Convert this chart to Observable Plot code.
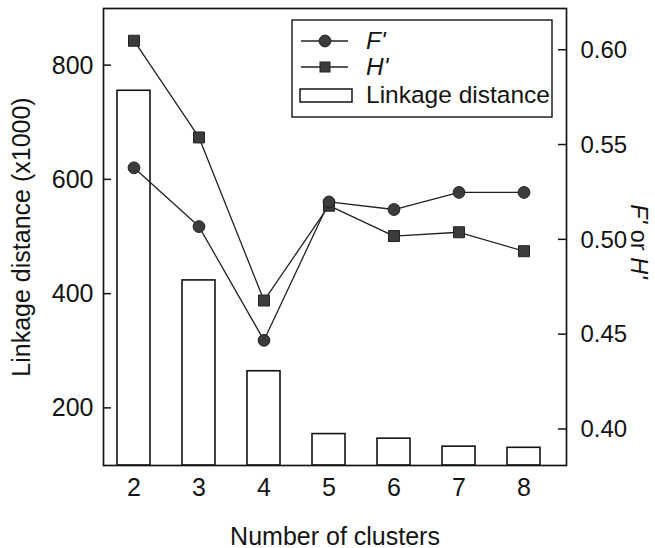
<!DOCTYPE html>
<html><head><meta charset="utf-8">
<script src="https://cdn.jsdelivr.net/npm/d3@7"></script>
<script src="https://cdn.jsdelivr.net/npm/@observablehq/plot@0.6"></script>
<style>
body{margin:0;background:#fff}
svg{font-family:"Liberation Sans",Arial,sans-serif}
</style>
</head><body><div id="chart"></div>
<script>
// Data
const clusters = [2, 3, 4, 5, 6, 7, 8];
const linkage = [756, 424, 265, 155, 147, 133, 131];          // Linkage distance (x1000)
const fPrime = [0.538, 0.507, 0.447, 0.520, 0.516, 0.525, 0.525];
const hPrime = [0.605, 0.554, 0.468, 0.518, 0.502, 0.504, 0.494];
const leftTicks = [200, 400, 600, 800];
const rightTicks = [0.40, 0.45, 0.50, 0.55, 0.60];
const xTickLabels = ["2", "3", "4", "5", "6", "7", "8"];
const leftDomain = [100, 900];
const rightDomain = [0.381, 0.622];

const toLeft = v => leftDomain[0] + (v - rightDomain[0]) / (rightDomain[1] - rightDomain[0]) * (leftDomain[1] - leftDomain[0]);
const fromLeft = v => rightDomain[0] + (v - leftDomain[0]) / (leftDomain[1] - leftDomain[0]) * (rightDomain[1] - rightDomain[0]);

const bars = clusters.map((k, i) => ({k, v: linkage[i]}));
const fRows = clusters.map((k, i) => ({k, s: "F", v: toLeft(fPrime[i])}));
const hRows = clusters.map((k, i) => ({k, s: "H", v: toLeft(hPrime[i])}));

const W = 655, H = 548, mL = 103, mR = 89, mT = 8, mB = 83;
const tickLen = 8;
const ink = "#141414";

const plot = Plot.plot({
  width: W, height: H,
  marginLeft: mL, marginRight: mR, marginTop: mT, marginBottom: mB,
  style: {fontSize: "25px", fontFamily: "'Liberation Sans', Arial, sans-serif", color: ink, background: "white", overflow: "visible"},
  x: {type: "band", domain: clusters, paddingInner: 0.5, paddingOuter: 0.268, align: 0.354},
  y: {domain: leftDomain},
  marks: [
    Plot.barY(bars, {x: "k", y1: leftDomain[0], y2: "v", fill: "white", stroke: ink, strokeWidth: 1.6}),
    Plot.line(hRows, {x: "k", y: "v", stroke: "#222", strokeWidth: 1.3}),
    Plot.line(fRows, {x: "k", y: "v", stroke: "#222", strokeWidth: 1.3}),
    Plot.dot(hRows, {x: "k", y: "v", symbol: "square", r: 6.2, fill: "#3c3c3c", stroke: "#222", strokeWidth: 1}),
    Plot.dot(fRows, {x: "k", y: "v", symbol: "circle", r: 5.9, fill: "#3c3c3c", stroke: "#222", strokeWidth: 1}),
    Plot.frame({stroke: ink, strokeWidth: 1.7}),
    Plot.axisX({tickSize: 0, tickPadding: 13, tickFormat: (d, i) => xTickLabels[i], label: "Number of clusters", labelAnchor: "center", labelOffset: 79, labelArrow: "none"}),
    Plot.axisY({ticks: leftTicks, tickSize: 0, tickPadding: 10, label: "Linkage distance (x1000)", labelAnchor: "center", labelOffset: 91, labelArrow: "none"}),
    Plot.axisY({anchor: "right", ticks: rightTicks.map(toLeft), tickFormat: d => fromLeft(d).toFixed(2), tickSize: 0, tickPadding: 14, fontSize: 24, label: null})
  ]
});
document.getElementById("chart").appendChild(plot);

const svg = d3.select(plot);
const yScale = plot.scale("y");

// Inward-pointing tick marks, placed with Plot's own y scale
const tg = svg.append("g").attr("stroke", ink).attr("stroke-width", 1.5);
for (const v of leftTicks) {
  const y = yScale.apply(v);
  tg.append("line").attr("x1", mL).attr("x2", mL + tickLen).attr("y1", y).attr("y2", y);
}
for (const v of rightTicks) {
  const y = yScale.apply(toLeft(v));
  tg.append("line").attr("x1", W - mR - tickLen).attr("x2", W - mR).attr("y1", y).attr("y2", y);
}

// Right axis title
const rt = svg.append("text")
  .attr("transform", `translate(${W - 24},${(mT + H - mB) / 2 + 5}) rotate(90)`)
  .attr("text-anchor", "middle").attr("fill", ink).attr("font-size", 23.5);
rt.append("tspan").attr("font-style", "italic").text("F'");
rt.append("tspan").text(" or ");
rt.append("tspan").attr("font-style", "italic").text("H'");

// Legend
const lg = svg.append("g").attr("fill", ink).attr("font-size", 24.5).attr("text-anchor", "start");
lg.append("rect").attr("x", 292).attr("y", 20).attr("width", 260).attr("height", 97)
  .attr("fill", "white").attr("stroke", ink).attr("stroke-width", 1.4);
const rows = [{y: 41, label: "F'", sym: "circle"}, {y: 67, label: "H'", sym: "square"}, {y: 95, label: "Linkage distance", sym: "bar"}];
for (const r of rows) {
  if (r.sym === "bar") {
    lg.append("rect").attr("x", 300).attr("y", r.y - 6).attr("width", 52).attr("height", 13)
      .attr("fill", "white").attr("stroke", ink).attr("stroke-width", 1.5);
  } else {
    lg.append("line").attr("x1", 301).attr("x2", 348).attr("y1", r.y).attr("y2", r.y).attr("stroke", "#222").attr("stroke-width", 1.3);
    if (r.sym === "circle") lg.append("circle").attr("cx", 325).attr("cy", r.y).attr("r", 5.9).attr("fill", "#3c3c3c").attr("stroke", "#222");
    else lg.append("rect").attr("x", 320).attr("y", r.y - 5).attr("width", 10).attr("height", 10).attr("fill", "#3c3c3c").attr("stroke", "#222");
  }
  lg.append("text").attr("x", 366).attr("y", r.y + 8).attr("text-anchor", "start")
    .attr("font-style", r.sym === "bar" ? "normal" : "italic").text(r.label);
}
</script>
</body></html>
